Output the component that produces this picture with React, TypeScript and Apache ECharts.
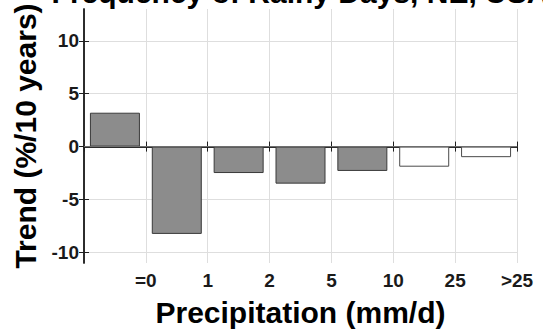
import React, { useEffect, useRef } from "react";
import * as echarts from "echarts";

const chartTitle = "Frequency of Rainy Days, NE, USA";
const binEdgeLabels = ["=0", "1", "2", "5", "10", "25", ">25"];
const trendValues = [3.2, -8.25, -2.5, -3.5, -2.3, -1.9, -1.0];
const significant = [true, true, true, true, true, false, false];
const yTickValues = [-10, -5, 0, 5, 10];
const xAxisTitle = "Precipitation (mm/d)";
const yAxisTitle = "Trend (%/10 years)";

const FONT = 'Arial, "Liberation Sans", Helvetica, sans-serif';
const TXT = "#1a1a1a";

export default function App() {
  const ref = useRef<HTMLDivElement>(null);
  useEffect(() => {
    if (!ref.current) return;
    const chart = echarts.init(ref.current, undefined, { renderer: "svg" });
    const data = trendValues.map((v, i) => ({
      value: [i + 0.5, v],
      itemStyle: significant[i]
        ? { color: "#8c8c8c", borderColor: "#3a3a3a", borderWidth: 1 }
        : { color: "#ffffff", borderColor: "#4a4a4a", borderWidth: 1 },
    }));
    const axisLineStyle = { color: "#1f1f1f", width: 1.5 };
    const tickStyle = { color: "#1f1f1f", width: 1 };
    chart.setOption({
      animation: false,
      grid: {
        left: 84,
        right: 26,
        top: 9,
        bottom: 66,
        containLabel: false,
        outerBoundsMode: "none",
      },
      graphic: [
        {
          type: "text",
          x: 300,
          y: -8,
          z: 100,
          style: {
            text: chartTitle,
            align: "center",
            verticalAlign: "middle",
            fontSize: 30,
            fontWeight: "bold",
            fontFamily: FONT,
            fill: "#000",
          },
        },
      ],
      xAxis: [
        {
          type: "value",
          position: "bottom",
          min: 0,
          max: 7,
          interval: 1,
          axisLine: { show: true, lineStyle: axisLineStyle },
          axisTick: { show: true, inside: true, length: 5, lineStyle: tickStyle },
          axisLabel: {
            show: true,
            margin: 8,
            fontSize: 19,
            fontWeight: "bold",
            fontFamily: FONT,
            color: TXT,
            showMinLabel: false,
            showMaxLabel: true,
            formatter: (v: number) => (v >= 1 && v <= 7 ? binEdgeLabels[Math.round(v) - 1] : ""),
          },
          splitLine: { show: true, lineStyle: { color: "#dedede", width: 1 } },
          name: xAxisTitle,
          nameLocation: "middle",
          nameGap: 34,
          nameMoveOverlap: false,
          nameTextStyle: { fontSize: 30, fontWeight: "bold", fontFamily: FONT, color: "#000" },
        },
        {
          type: "value",
          position: "top",
          min: 0,
          max: 7,
          interval: 1,
          axisLine: { show: true, lineStyle: axisLineStyle },
          axisTick: { show: true, inside: true, length: 5, lineStyle: tickStyle },
          axisLabel: { show: false },
          splitLine: { show: false },
        },
      ],
      yAxis: [
        {
          type: "value",
          position: "left",
          min: -11,
          max: 13,
          axisLine: { show: true, lineStyle: axisLineStyle },
          axisTick: { show: true, inside: true, length: 5, customValues: yTickValues, lineStyle: tickStyle },
          axisLabel: {
            show: true,
            customValues: yTickValues,
            margin: 5,
            fontSize: 19,
            fontWeight: "bold",
            fontFamily: FONT,
            color: TXT,
          },
          splitLine: { show: true, lineStyle: { color: "#dedede", width: 1 } },
          name: yAxisTitle,
          nameLocation: "middle",
          nameGap: 44,
          nameMoveOverlap: false,
          nameTextStyle: { fontSize: 30, fontWeight: "bold", fontFamily: FONT, color: "#000" },
        },
        {
          type: "value",
          position: "right",
          min: -11,
          max: 13,
          axisLine: { show: true, lineStyle: axisLineStyle },
          axisTick: { show: true, inside: true, length: 5, customValues: yTickValues, lineStyle: tickStyle },
          axisLabel: { show: false },
          splitLine: { show: false },
        },
      ],
      series: [
        {
          type: "bar",
          xAxisIndex: 0,
          yAxisIndex: 0,
          barWidth: 50,
          data,
          markLine: {
            silent: true,
            symbol: "none",
            label: { show: false },
            lineStyle: { color: "#6e6e6e", width: 1.2, type: "solid" },
            data: [{ yAxis: 0 }],
          },
        },
      ],
    });
    return () => chart.dispose();
  }, []);
  return (
    <div
      ref={ref}
      style={{ position: "fixed", left: 0, top: 0, width: 543, height: 329, background: "#fff" }}
    />
  );
}
